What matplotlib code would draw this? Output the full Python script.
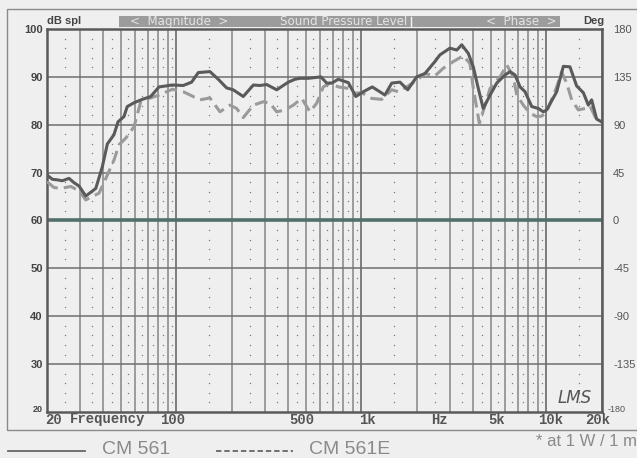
import numpy as np
import matplotlib.pyplot as plt
from matplotlib.lines import Line2D
from matplotlib.patches import Rectangle

# CM 561 (solid) - magnitude in dB spl
cm561_freq = [20, 21.4, 22.7, 24.2, 26.3, 28.0, 29.8, 32.4, 36.7, 39.8, 42.4, 46.0, 48.4, 52.1,
              54.3, 59.1, 65.5, 72.7, 80.6, 95.1, 109, 121, 131.5, 152, 168.6, 187, 203, 230,
              261, 283, 308, 349, 403, 438, 467, 517, 605, 650, 692, 751, 851, 933, 1026, 1146,
              1342, 1460, 1618, 1782, 1992, 2208, 2500, 2661, 3014, 3281, 3490, 3788, 4030,
              4288, 4560, 4966, 5396, 5984, 6368, 6776, 7212, 7674, 8340, 9054, 9640, 10046,
              11380, 12360, 13420, 14590, 15850, 16870, 17580, 18700, 19920]
cm561_db = [69.5, 68.6, 68.5, 68.3, 68.8, 67.9, 67.2, 65.1, 66.7, 71.2, 76.0, 77.9, 80.6, 81.7,
            83.8, 84.6, 85.3, 85.9, 87.9, 88.3, 88.2, 88.9, 90.9, 91.1, 89.5, 87.7, 87.3, 85.9,
            88.3, 88.2, 88.4, 87.3, 88.9, 89.5, 89.7, 89.7, 90.0, 88.7, 88.7, 89.5, 88.8, 85.9,
            86.9, 87.9, 86.2, 88.7, 88.9, 87.3, 90.0, 90.7, 93.2, 94.6, 96.0, 95.6, 96.7, 94.9,
            92.1, 87.6, 83.4, 86.2, 88.7, 90.4, 91.1, 90.4, 87.9, 86.9, 83.8, 83.4, 82.7, 83.1,
            86.9, 92.2, 92.1, 88.1, 86.7, 84.1, 85.2, 81.2, 80.6]

# CM 561E (dashed)
cm561e_freq = [20, 21.8, 23.7, 26.9, 29.8, 32.4, 35.1, 38.2, 42.4, 46.0, 49.0, 53.3, 59.1, 64.2,
               71.2, 80.6, 95.1, 109, 134.3, 152, 172.2, 195, 212, 230, 261, 295, 321, 349, 387,
               429, 476, 528, 574, 623, 677, 751, 851, 924, 1004, 1138, 1289, 1460, 1585, 1759,
               1992, 2208, 2500, 2774, 3142, 3557, 3865, 4030, 4346, 4667, 4966, 5624, 6110,
               6636, 6920, 7512, 8165, 8870, 9440, 10046, 11380, 12100, 12890, 13720, 14890,
               16190, 17230, 18700, 19920]
cm561e_db = [68.1, 66.9, 66.7, 67.1, 66.2, 64.3, 65.0, 65.7, 69.5, 72.6, 75.8, 77.2, 79.6, 84.8,
             85.5, 86.2, 87.4, 86.9, 85.2, 85.6, 82.7, 84.1, 83.4, 81.5, 84.1, 84.8, 84.5, 82.7,
             83.1, 84.1, 85.5, 82.7, 84.5, 87.9, 88.7, 87.9, 87.6, 86.6, 86.7, 85.5, 85.3, 87.3,
             86.9, 87.9, 89.3, 90.7, 90.2, 91.8, 93.2, 94.4, 92.8, 87.6, 80.3, 84.1, 87.6, 90.0,
             92.5, 90.0, 86.2, 84.1, 82.4, 81.7, 81.8, 82.7, 87.9, 91.0, 88.7, 85.2, 83.1, 83.4,
             83.9, 81.0, 80.6]

db_ticks = [30, 40, 50, 60, 70, 80, 90, 100]
phase_ticks = [-135, -90, -45, 0, 45, 90, 135, 180]
freq_labels = ["100", "500", "1k", "Hz", "5k", "10k", "20k"]
freq_label_pos = [96, 480, 1080, 2660, 5400, 10600, 19000]

W, H = 637, 458
bg = "#efefef"


def px(x, y):
    # pixel position -> figure fraction
    return x / W, 1 - y / H


fig = plt.figure(figsize=(W / 100, H / 100), dpi=100, facecolor=bg)
ax = fig.add_axes([47 / W, 1 - 412 / H, 555 / W, 383 / H], facecolor=bg)
ax.set_xscale("log")
ax.set_xlim(20, 20000)
ax.set_ylim(20, 100)

# outer panel frame
fig.add_artist(Rectangle(px(7, 430), 640 / W, 421 / H, transform=fig.transFigure,
                         fill=False, edgecolor="#8a8a8a", lw=1.0))

# solid grid
major_f = [f * m for m in (10, 100, 1000) for f in range(2, 10)] + [100, 1000, 10000, 20000]
for f in major_f:
    dec = f in (100, 1000, 10000)
    ax.axvline(f, color="#5e5e5e" if dec else "#858585", lw=1.1, zorder=1)
for d in range(30, 100, 10):
    ax.axhline(d, color="#6e6e6e", lw=1.1, zorder=1)

# dotted grid: half steps in frequency, 2 dB steps
minor_f = [f * m for m in (10, 100, 1000) for f in np.arange(2.5, 10, 1.0)] + [150, 1500, 15000]
dots_y = [d for d in range(22, 100, 2) if d % 10]
fx, fy = np.meshgrid(minor_f, dots_y)
ax.plot(fx.ravel(), fy.ravel(), ls="none", marker="s", ms=0.9, mew=0, color="#7a7a7a", zorder=1)

# 0 deg reference line
ax.axhline(60, color="#51706a", lw=2.6, zorder=2)

ax.plot(cm561e_freq, cm561e_db, color="#9a9a9a", lw=2.2, ls=(0, (4.2, 2.0)), zorder=3)
ax.plot(cm561_freq, cm561_db, color="#5a5a5a", lw=2.2, zorder=4)

for s in ax.spines.values():
    s.set_color("#5a5a5a")
    s.set_linewidth(1.8)
ax.set_xticks([])
ax.set_yticks(db_ticks)
ax.set_yticklabels([str(d) for d in db_ticks], fontsize=8, fontweight="bold",
                   color="#444444", family="Liberation Sans")
ax.tick_params(axis="y", length=0, pad=3)
ax.minorticks_off()

ax2 = ax.twinx()
ax2.set_ylim(-180, 180)
ax2.set_yticks(phase_ticks)
ax2.set_yticklabels([str(p) for p in phase_ticks], fontsize=8, color="#555555",
                    family="Liberation Sans")
ax2.tick_params(axis="y", length=0, pad=8)
for s in ax2.spines.values():
    s.set_visible(False)

fig.text(*px(43, 410), "20", fontsize=6.5, color="#444444", ha="right", va="center",
         family="Liberation Sans", fontweight="bold")
fig.text(*px(608, 410), "-180", fontsize=6.5, color="#555555", ha="left", va="center",
         family="Liberation Sans")

# frequency labels
mono = dict(family="Liberation Mono", fontsize=10, color="#555555", va="center", fontweight="bold")
fig.text(*px(45, 419.5), "20", ha="left", **mono)
fig.text(*px(70, 419.5), "Frequency", ha="left", **mono)
for lab, f in zip(freq_labels, freq_label_pos):
    ax.text(f, -0.02, lab, transform=ax.get_xaxis_transform(), ha="center", **mono)

# header bar
fig.add_artist(Rectangle(px(119, 26.5), (560 - 119) / W, 10.5 / H, transform=fig.transFigure,
                         color="#9c9c9c", lw=0))
hdr = dict(fontsize=8.6, color="#e4e4e4", va="center", ha="left", family="DejaVu Sans")
fig.text(*px(130, 21.3), "<  Magnitude  >", **hdr)
fig.text(*px(280, 21.3), "Sound Pressure Level", **hdr)
fig.text(*px(486, 21.3), "<  Phase  >", **hdr)
fig.add_artist(Line2D([411 / W, 411 / W], [1 - 17 / H, 1 - 26 / H], transform=fig.transFigure,
                      color="#f4f4f4", lw=1.0))
fig.text(*px(47, 21.5), "dB spl", fontsize=8, fontweight="bold", color="#444444",
         va="center", ha="left", family="Liberation Sans")
fig.text(*px(604, 21.5), "Deg", fontsize=8, fontweight="bold", color="#444444",
         va="center", ha="right", family="Liberation Sans")

# logo
fig.text(*px(575, 398), "LMS", fontsize=12, style="italic", color="#555555",
         ha="center", va="center", family="DejaVu Sans", fontweight="light")

# legend
fig.add_artist(Line2D([8 / W, 85 / W], [1 - 451 / H] * 2, transform=fig.transFigure,
                      color="#666666", lw=1.3))
fig.add_artist(Line2D([216 / W, 293 / W], [1 - 451 / H] * 2, transform=fig.transFigure,
                      color="#666666", lw=1.3, ls=(0, (3.0, 1.6))))
leg = dict(fontsize=14, color="#8a8a8a", va="center", ha="left", family="Liberation Sans")
fig.text(*px(102, 449), "CM 561", **leg)
fig.text(*px(309, 449), "CM 561E", **leg)
fig.text(*px(637, 441), "* at 1 W / 1 m", fontsize=12, color="#8a8a8a", va="center",
         ha="right", family="Liberation Sans")

fig.savefig("out.png", dpi=100, facecolor=bg)
